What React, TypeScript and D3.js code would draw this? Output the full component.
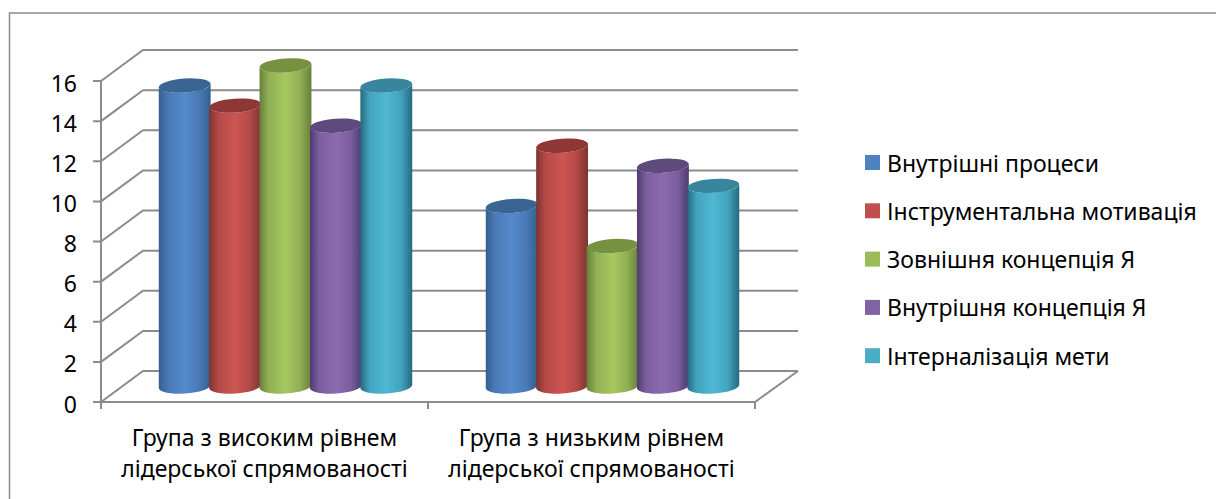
import React from "react";
import * as d3 from "d3";

const categories = [
  ["Група з високим рівнем", "лідерської спрямованості"],
  ["Група з низьким рівнем", "лідерської спрямованості"],
];
const seriesNames = [
  "Внутрішні процеси",
  "Інструментальна мотивація",
  "Зовнішня концепція Я",
  "Внутрішня концепція Я",
  "Інтерналізація мети",
];
const highGroup = [15, 14, 16, 13, 15];
const lowGroup = [9, 12, 7, 11, 10];
const groupValues = [highGroup, lowGroup];
const ticks = [0, 2, 4, 6, 8, 10, 12, 14, 16];

// dark edge, mid body, light centre, cap, legend swatch
const palette = [
  { edge: "#33608f", mid: "#4a7ab5", light: "#5589cc", cap: "#3a6491", swatch: "#4f81bd" },
  { edge: "#7d3331", mid: "#b44a47", light: "#cd5552", cap: "#8e3735", swatch: "#c0504d" },
  { edge: "#67803a", mid: "#90b055", light: "#a6c85f", cap: "#76913f", swatch: "#9bbb59" },
  { edge: "#4f3a70", mid: "#7c5fa0", light: "#8b6bad", cap: "#5f4a7d", swatch: "#8064a2" },
  { edge: "#26697f", mid: "#42a4bf", light: "#4fb8d3", cap: "#37869e", swatch: "#4bacc6" },
];

const FONT = "'Noto Sans', sans-serif";
const GRID = "#8c8c8c";
const depthX = 42;
const depthY = -31;

const y = d3.scaleLinear().domain([0, 16]).range([402, 81]);
const x0 = d3.scaleBand<number>().domain([0, 1]).range([101, 755]);
const x1 = d3
  .scaleBand<number>()
  .domain(d3.range(5))
  .range([37.5, 327 - 37.5]);

const rx = 26;
const ry = 7;
const tilt = -4;
const dx = rx * Math.cos((tilt * Math.PI) / 180);
const dy = rx * Math.sin((tilt * Math.PI) / 180);

function Cylinder({ cx, top, base, s }: { cx: number; top: number; base: number; s: number }) {
  const body = [
    `M${cx - dx},${top - dy}`,
    `L${cx - dx},${base - dy}`,
    `A${rx},${ry} ${tilt} 0 0 ${cx + dx},${base + dy}`,
    `L${cx + dx},${top + dy}`,
    `A${rx},${ry} ${tilt} 0 1 ${cx - dx},${top - dy}`,
    "Z",
  ].join(" ");
  return (
    <g>
      <path d={body} fill={`url(#cyl${s})`} />
      <ellipse
        cx={cx}
        cy={top}
        rx={rx}
        ry={ry}
        fill={palette[s].cap}
        transform={`rotate(${tilt} ${cx} ${top})`}
      />
    </g>
  );
}

export default function App() {
  const back = y(0) + depthY;
  return (
    <svg
      width={1216}
      height={499}
      style={{ position: "absolute", left: 0, top: 0, display: "block" }}
      fontFamily={FONT}
    >
      <defs>
        {palette.map((p, i) => (
          <linearGradient key={i} id={`cyl${i}`} x1="0" x2="1" y1="0" y2="0">
            <stop offset="0" stopColor={p.edge} />
            <stop offset="0.18" stopColor={p.mid} />
            <stop offset="0.5" stopColor={p.light} />
            <stop offset="0.78" stopColor={p.mid} />
            <stop offset="1" stopColor={p.edge} />
          </linearGradient>
        ))}
      </defs>
      <rect width={1216} height={499} fill="#fff" />
      {/* chart frame: only the top and left sides are in view */}
      <path d="M9.5,499 V13 H1216" fill="none" stroke={GRID} strokeWidth={1.5} />

      {/* side wall and back wall gridlines */}
      {ticks.map((t) => (
        <g key={t} stroke={GRID} strokeWidth={2} fill="none">
          <path d={`M93,${y(t)} H101 L${101 + depthX},${y(t) + depthY} H798`} />
        </g>
      ))}
      <g stroke={GRID} strokeWidth={2} fill="none">
        <line x1={101} x2={101} y1={y(16)} y2={409} />
        <path d={`M101,${y(0)} H755 L798,${back}`} />
        {[0, 1].map((i) => (
          <line key={i} x1={x0(i)! + x0.bandwidth()} x2={x0(i)! + x0.bandwidth()} y1={y(0)} y2={409} />
        ))}
      </g>

      {/* cylinders */}
      {groupValues.map((vals, g) => (
        <g key={g}>
          {vals.map((v, s) => {
            const cx = x0(g)! + x1(s)! + x1.bandwidth() / 2 + depthX / 2;
            return (
              <Cylinder key={s} s={s} cx={cx} top={y(v) + depthY / 2} base={y(0) + depthY / 2} />
            );
          })}
        </g>
      ))}

      {/* value axis labels */}
      {ticks.map((t) => (
        <text key={t} x={77} y={y(t) + 1.5} textAnchor="end" dominantBaseline="central" fontSize={23} fill="#000">
          {t}
        </text>
      ))}

      {/* category labels */}
      {categories.map((lines, g) => (
        <text key={g} textAnchor="middle" fontSize={23} fill="#000">
          {lines.map((l, i) => (
            <tspan key={i} x={x0(g)! + x0.bandwidth() / 2} y={446 + i * 31}>
              {l}
            </tspan>
          ))}
        </text>
      ))}

      {/* legend */}
      {seriesNames.map((name, i) => (
        <g key={name}>
          <rect x={865} y={155 + i * 48.3} width={15} height={15} fill={palette[i].swatch} />
          <text x={887} y={171.5 + i * 48.3} fontSize={23} fill="#000">
            {name}
          </text>
        </g>
      ))}
    </svg>
  );
}
